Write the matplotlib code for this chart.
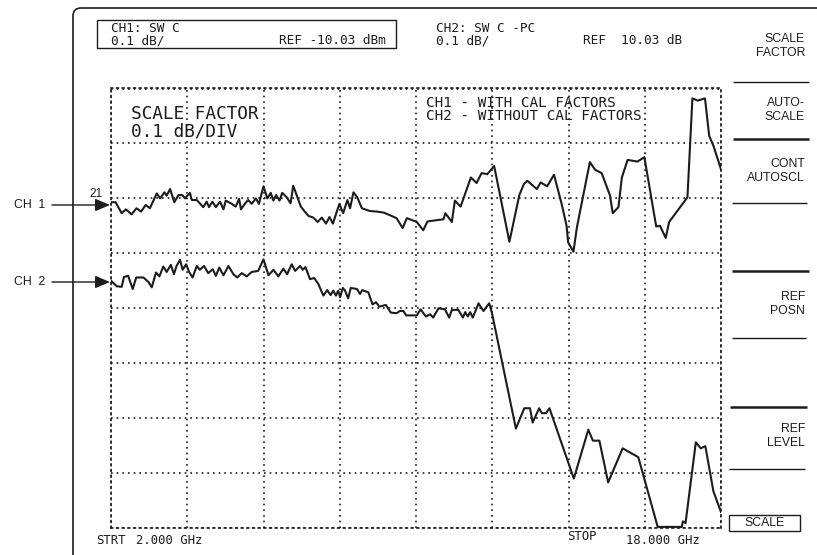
import numpy as np
import matplotlib
matplotlib.use("Agg")
import matplotlib.pyplot as plt
from matplotlib.patches import FancyBboxPatch, Rectangle

# sweep / display settings
F_START, F_STOP = 2.0, 18.0          # GHz
REF1, REF2 = -10.03, 10.03           # dBm, dB
SCALE = 0.1                          # dB/div
REF_DIV = 6                          # reference line (divisions from bottom)

# CH1 - with cal factors (GHz, dBm)
ch1_freq = [2.00, 2.12, 2.28, 2.39, 2.54, 2.67, 2.79, 2.91, 3.02, 3.20, 3.29, 3.40,
            3.46, 3.55, 3.66, 3.77, 3.87, 3.94, 4.07, 4.12, 4.25, 4.42, 4.51, 4.57,
            4.66, 4.75, 4.86, 4.95, 5.01, 5.17, 5.27, 5.36, 5.41, 5.52, 5.60, 5.69,
            5.80, 5.88, 6.00, 6.10, 6.19, 6.26, 6.33, 6.42, 6.49, 6.61, 6.71, 6.78,
            6.89, 6.98, 7.07, 7.18, 7.31, 7.42, 7.53, 7.64, 7.73, 7.82, 7.99, 8.09,
            8.20, 8.27, 8.36, 8.46, 8.58, 8.79, 8.97, 9.16, 9.36, 9.49, 9.65, 9.76,
            9.95, 10.02, 10.19, 10.30, 10.72, 10.77, 10.94, 11.02, 11.17, 11.44, 11.59,
            11.72, 11.87, 12.05, 12.45, 12.71, 12.83, 12.92, 13.17, 13.27, 13.44, 13.62,
            13.82, 13.95, 13.99, 14.13, 14.22, 14.56, 14.70, 14.87, 15.09, 15.16, 15.31,
            15.40, 15.55, 15.81, 15.99, 16.30, 16.40, 16.55, 16.64, 17.12, 17.25, 17.39,
            17.58, 17.69, 17.80, 18.00]
ch1_level = [-10.037, -10.037, -10.057, -10.050, -10.059, -10.048, -10.054, -10.042,
             -10.048, -10.021, -10.030, -10.019, -10.025, -10.013, -10.037, -10.024,
             -10.024, -10.030, -10.020, -10.033, -10.033, -10.046, -10.036, -10.046,
             -10.036, -10.046, -10.036, -10.050, -10.034, -10.040, -10.045, -10.031,
             -10.050, -10.039, -10.033, -10.040, -10.030, -10.040, -10.008, -10.030,
             -10.020, -10.034, -10.024, -10.034, -10.020, -10.028, -10.039, -10.007,
             -10.028, -10.045, -10.053, -10.062, -10.065, -10.073, -10.065, -10.076,
             -10.064, -10.076, -10.040, -10.057, -10.033, -10.048, -10.019, -10.028,
             -10.048, -10.053, -10.054, -10.056, -10.062, -10.066, -10.084, -10.066,
             -10.071, -10.073, -10.088, -10.072, -10.068, -10.057, -10.073, -10.034,
             -10.045, -9.992, -10.002, -9.984, -9.986, -9.971, -10.109, -10.024,
             -10.004, -9.998, -10.013, -10.001, -10.008, -9.987, -10.040, -10.080,
             -10.110, -10.127, -10.083, -9.964, -9.978, -9.984, -10.025, -10.057,
             -10.046, -9.992, -9.960, -9.963, -9.955, -10.081, -10.080, -10.102,
             -10.073, -10.028, -9.848, -9.852, -9.848, -9.916, -9.934, -9.977]

# CH2 - without cal factors (GHz, dB)
ch2_freq = [2.00, 2.15, 2.28, 2.34, 2.45, 2.57, 2.66, 2.85, 2.98, 3.07, 3.18, 3.27,
            3.37, 3.46, 3.57, 3.65, 3.72, 3.81, 3.88, 3.97, 4.05, 4.14, 4.25, 4.33,
            4.44, 4.55, 4.67, 4.75, 4.84, 4.95, 5.08, 5.21, 5.31, 5.43, 5.56, 5.69,
            5.86, 6.00, 6.13, 6.26, 6.39, 6.52, 6.62, 6.74, 6.83, 6.96, 7.03, 7.10,
            7.22, 7.33, 7.44, 7.57, 7.67, 7.76, 7.83, 7.90, 7.96, 8.01, 8.08, 8.14,
            8.22, 8.29, 8.45, 8.53, 8.59, 8.75, 8.86, 8.95, 9.04, 9.21, 9.34, 9.49,
            9.58, 9.67, 9.74, 10.02, 10.12, 10.26, 10.37, 10.45, 10.59, 10.76, 10.87,
            10.94, 11.11, 11.23, 11.29, 11.36, 11.42, 11.49, 11.64, 11.77, 11.92,
            11.99, 12.62, 12.84, 12.99, 13.06, 13.23, 13.30, 13.41, 13.50, 14.14,
            14.52, 14.64, 14.81, 15.04, 15.42, 15.83, 16.34, 16.97, 17.00, 17.07,
            17.34, 17.47, 17.59, 17.80, 18.00]
ch2_level = [9.880, 9.870, 9.869, 9.887, 9.889, 9.865, 9.886, 9.886, 9.878, 9.868,
             9.895, 9.888, 9.906, 9.896, 9.909, 9.892, 9.907, 9.918, 9.900, 9.910,
             9.896, 9.886, 9.907, 9.900, 9.907, 9.894, 9.901, 9.889, 9.904, 9.890,
             9.907, 9.892, 9.886, 9.894, 9.888, 9.896, 9.898, 9.919, 9.890, 9.900,
             9.888, 9.902, 9.892, 9.910, 9.898, 9.907, 9.900, 9.905, 9.883, 9.885,
             9.874, 9.853, 9.863, 9.854, 9.862, 9.853, 9.862, 9.850, 9.867, 9.862,
             9.848, 9.867, 9.865, 9.856, 9.863, 9.859, 9.837, 9.841, 9.833, 9.836,
             9.822, 9.821, 9.825, 9.825, 9.817, 9.817, 9.828, 9.815, 9.819, 9.813,
             9.830, 9.828, 9.813, 9.827, 9.827, 9.813, 9.823, 9.815, 9.823, 9.813,
             9.839, 9.825, 9.839, 9.822, 9.611, 9.648, 9.648, 9.622, 9.648, 9.639,
             9.639, 9.648, 9.520, 9.609, 9.589, 9.589, 9.513, 9.575, 9.559, 9.432,
             9.432, 9.442, 9.439, 9.586, 9.575, 9.579, 9.497, 9.459]

INK = "#1c1c1c"
DOT = (0, (1, 2.4))
MONO = "DejaVu Sans Mono"
SANS = "Liberation Sans"

W, H = 817, 555
fig = plt.figure(figsize=(W / 100, H / 100), dpi=100)
fig.patch.set_facecolor("white")

# graticule: 10 x 8 divisions, pixel box 111..721 x 88.5..528
ax = fig.add_axes([111 / W, (H - 528) / H, 610 / W, 439.5 / H])
ax.set_xlim(F_START, F_STOP)
ax.set_ylim(REF1 - REF_DIV * SCALE, REF1 + (8 - REF_DIV) * SCALE)
ax.set_xticks(np.linspace(F_START, F_STOP, 9))
ax.set_yticks(REF1 + SCALE * np.arange(-REF_DIV, 9 - REF_DIV))
ax.tick_params(length=0, labelbottom=False, labelleft=False)
ax.grid(True, color=INK, linestyle=DOT, linewidth=1.2)
for s in ax.spines.values():
    s.set_linestyle(DOT)
    s.set_linewidth(1.2)
    s.set_color(INK)
ax.plot(ch1_freq, ch1_level, color=INK, linewidth=1.5)

ax2 = ax.twinx()
ax2.set_ylim(REF2 - REF_DIV * SCALE, REF2 + (8 - REF_DIV) * SCALE)
ax2.set_yticks([])
for s in ax2.spines.values():
    s.set_visible(False)
ax2.plot(ch2_freq, ch2_level, color=INK, linewidth=1.5)

# overlay in pixel coordinates for the instrument screen furniture
ov = fig.add_axes([0, 0, 1, 1], zorder=5)
ov.set_xlim(0, W)
ov.set_ylim(H, 0)
ov.axis("off")
ov.patch.set_alpha(0)

# outer screen frame (rounded top-left corner, running off the page)
ov.add_patch(FancyBboxPatch((73, 8), 800, 600, boxstyle="round,pad=0,rounding_size=8",
                            fill=False, edgecolor=INK, linewidth=1.2))

# channel header
ov.add_patch(Rectangle((97, 20), 299, 28, fill=False, edgecolor=INK, linewidth=1.0))
hdr = dict(family=MONO, fontsize=9.2, color=INK, va="center")
ov.text(111, 28.5, "CH1: SW C", **hdr)
ov.text(111, 40.5, "0.1 dB/", **hdr)
ov.text(386, 40.5, "REF -10.03 dBm", ha="right", **hdr)
ov.text(436, 28.5, "CH2: SW C -PC", **hdr)
ov.text(436, 40.5, "0.1 dB/", **hdr)
ov.text(682, 40.5, "REF  10.03 dB", ha="right", **hdr)

# annotations inside the graticule
big = dict(family=MONO, fontsize=12.8, color=INK, va="center")
ov.text(131, 114, "SCALE FACTOR", **big)
ov.text(131, 132, "0.1 dB/DIV", **big)
leg = dict(family=MONO, fontsize=10.3, color=INK, va="center")
ov.text(426, 103, "CH1 - WITH CAL FACTORS", **leg)
ov.text(426, 116.5, "CH2 - WITHOUT CAL FACTORS", **leg)

# softkey menu
key = dict(family=SANS, fontsize=8.8, color=INK, ha="right", va="center", linespacing=1.25)
ov.text(805, 46, "SCALE\nFACTOR", **key)
ov.text(805, 110, "AUTO-\nSCALE", **key)
ov.text(805, 171, "CONT\nAUTOSCL", **key)
ov.text(805, 304, "REF\nPOSN", **key)
ov.text(805, 436, "REF\nLEVEL", **key)
for y, x0, x1, lw in [(82, 733, 809, 1.0), (139, 733, 809, 1.8), (203, 732, 807, 1.0),
                      (271, 732, 809, 1.8), (338, 732, 806, 1.0), (407, 730, 807, 1.8),
                      (469, 729, 805, 1.0)]:
    ov.plot([x0, x1], [y, y], color=INK, linewidth=lw, solid_capstyle="butt")
ov.add_patch(Rectangle((729, 515), 71, 16, fill=False, edgecolor=INK, linewidth=1.0))
ov.text(764.5, 523, "SCALE", family=SANS, fontsize=8.8, color=INK, ha="center", va="center")

# sweep limits
foot = dict(family=MONO, fontsize=8.8, color=INK, va="center")
ov.text(96, 541, "STRT", **foot)
ov.text(136, 541, "2.000 GHz", **foot)
ov.text(567, 537, "STOP", **foot)
ov.text(626, 541, "18.000 GHz", **foot)

# channel reference markers
lab = dict(family=SANS, fontsize=8.8, color=INK, va="center")
ov.text(14, 205, "CH  1", **lab)
ov.text(14, 282, "CH  2", **lab)
ov.text(89, 194, "21", family=SANS, fontsize=8.5, color=INK, va="center")
for y in (205, 282):
    ov.annotate("", xy=(110, y), xytext=(52, y),
                arrowprops=dict(arrowstyle="-|>,head_length=0.9,head_width=0.38",
                                color=INK, linewidth=1.0, shrinkA=0, shrinkB=0))

fig.savefig("out.png", dpi=100, facecolor="white")
